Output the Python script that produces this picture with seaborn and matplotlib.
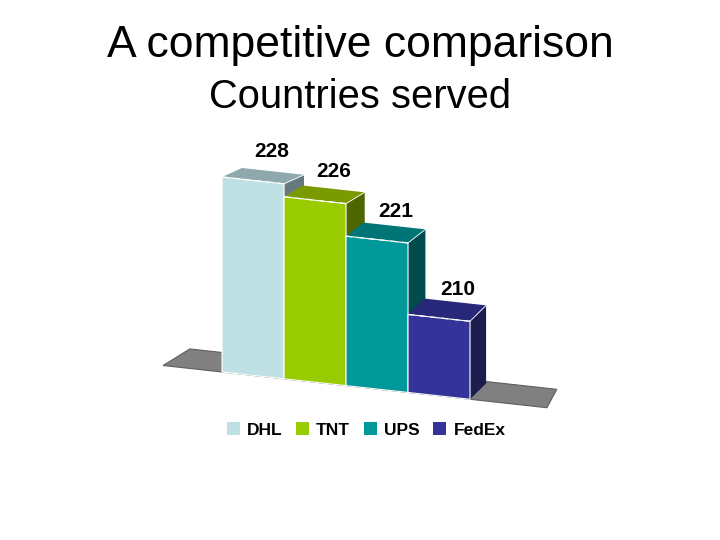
import numpy as np
import pandas as pd
import matplotlib
matplotlib.use("Agg")
import matplotlib.pyplot as plt
from matplotlib.patches import Polygon, Patch
from matplotlib.transforms import Affine2D
import seaborn as sns

# ---- data ----
companies = ["DHL", "TNT", "UPS", "FedEx"]
countries = [228, 226, 221, 210]
front_colors = ["#BFE1E6", "#99CC00", "#009999", "#333399"]
top_colors = ["#8EA8AD", "#7A9A00", "#007575", "#28287A"]
side_colors = ["#66797D", "#4D6600", "#004C4C", "#1C1C4F"]
title_line1 = "A competitive comparison"
title_line2 = "Countries served"

BASE = 198.0
K = 0.11 * 62 / 6.5  # shear of the pseudo-3D view

sns.set_theme(style="white")
plt.rcParams["font.family"] = ["Liberation Sans", "DejaVu Sans"]
plt.rcParams["text.color"] = "black"

fig = plt.figure(figsize=(7.2, 5.4), dpi=100)
fig.patch.set_facecolor("white")
ax = fig.add_axes([140 / 720, 1 - 420 / 540, 440 / 720, 290 / 540])
ax.set_facecolor("white")

df = pd.DataFrame({"company": companies, "countries": countries})
sns.barplot(data=df, x="company", y="countries", hue="company",
            palette=dict(zip(companies, front_colors)), width=1.0,
            legend=False, ax=ax, saturation=1.0, edgecolor="white",
            linewidth=0.8)

skew = Affine2D(np.array([[1.0, 0.0, 0.0],
                          [-K, 1.0, -0.5 * K],
                          [0.0, 0.0, 1.0]]))
tr = skew + ax.transData

bars = list(ax.patches)

# floor
floor = Polygon([(-1.45, BASE), (4.74, BASE), (4.90, BASE + 3.0), (-1.02, BASE + 3.0)],
                closed=True, facecolor="#808080", edgecolor="#5E5E5E", lw=0.8,
                transform=tr, zorder=1)
ax.add_patch(floor)

for i, p in enumerate(bars):
    h = p.get_height()
    p.set_y(BASE)
    p.set_height(h - BASE)
    p.set_transform(tr)
    p.set_zorder(4 + 3 * i)
    p.set_clip_on(False)
    x0 = p.get_x()
    x1 = x0 + p.get_width()
    top = h
    dxp = 20 - 1.3 * i
    dyp = 9 + 2.3 * i
    dx = dxp / 62
    dy = dyp / 6.5 + K * dx
    side = Polygon([(x1, BASE), (x1 + dx, BASE + dy), (x1 + dx, top + dy), (x1, top)],
                   closed=True, facecolor=side_colors[i], edgecolor="none",
                   transform=tr, zorder=2 + 3 * i, clip_on=False)
    topf = Polygon([(x0, top), (x1, top), (x1 + dx, top + dy), (x0 + dx, top + dy)],
                   closed=True, facecolor=top_colors[i], edgecolor="none",
                   transform=tr, zorder=3 + 3 * i, clip_on=False)
    ax.add_patch(side)
    ax.add_patch(topf)
    ax.plot([x0, x1], [top, top], transform=tr, color="white", lw=0.9,
            ls=(0, (5, 4)), zorder=5 + 3 * i, clip_on=False)
    ax.plot([x1, x1 + dx], [top, top + dy], transform=tr, color="white", lw=0.6,
            zorder=5 + 3 * i, clip_on=False)
    ax.text(p.get_x() + p.get_width() / 2 + 0.3, top + 4.7, f"{countries[i]}",
            transform=tr, ha="center", va="center", fontsize=15,
            fontweight="bold", color="black", zorder=30)

ax.set_xlim(-1.823, 5.274)
ax.set_ylim(190.615, 235.23)
ax.set_axis_off()

fig.text(0.5, 1 - 46 / 540, title_line1, ha="center", va="center",
         fontsize=32, color="black")
fig.text(0.5, 1 - 97 / 540, title_line2, ha="center", va="center",
         fontsize=28.7, color="black")

handles = [Patch(facecolor=c, edgecolor="none") for c in front_colors]
leg = fig.legend(handles=handles, labels=companies, loc="center",
                 bbox_to_anchor=(366 / 720, 1 - 430 / 540), ncol=4, frameon=False,
                 prop={"weight": "bold", "size": 12.5}, handlelength=0.75,
                 handleheight=0.75, handletextpad=0.4, columnspacing=0.8)
for t in leg.get_texts():
    t.set_color("black")

fig.savefig("out.png", dpi=100, facecolor="white")
